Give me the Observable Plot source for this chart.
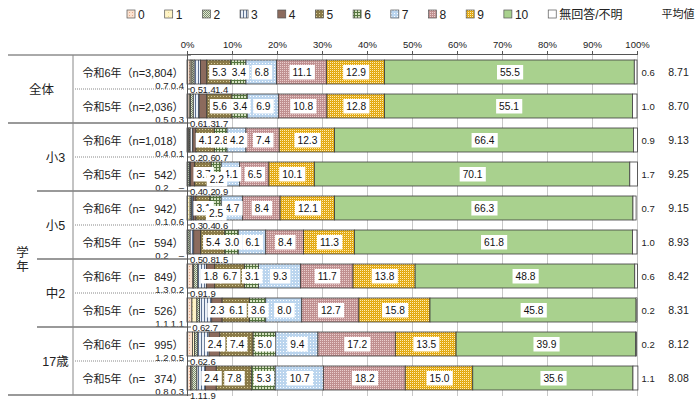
<!DOCTYPE html>
<html><head><meta charset="utf-8">
<script src="https://cdn.jsdelivr.net/npm/d3@7"></script>
<script src="https://cdn.jsdelivr.net/npm/@observablehq/plot@0.6"></script>
<style>
body{margin:0;background:#fff;font-family:"Liberation Sans","Noto Sans CJK JP",sans-serif;color:#222;}
#chart{width:700px;}
#chart svg{display:block;}
</style></head><body><div id="chart"></div>
<script>
const categories = ["0","1","2","3","4","5","6","7","8","9","10","無回答/不明"];
const groups = ["全体","全体","小3","小3","小5","小5","中2","中2","17歳","17歳"];
const years = ["令和6年","令和5年","令和6年","令和5年","令和6年","令和5年","令和6年","令和5年","令和6年","令和5年"];
const ns = ["3,804","2,036","1,018","542","942","594","849","526","995","374"];
const s0 = [0.7,0.5,0.4,0.2,0.1,0.2,1.3,1.1,1.2,0.8];
const s1 = [0.4,0.3,0.1,0,0.6,0,0.2,1.1,0.5,0.3];
const s2 = [0.5,0.6,0.2,0.4,0.3,0.5,0.9,0.6,0.6,1.1];
const s3 = [1.4,1.3,0.6,0.2,0.4,0.8,1.9,2.7,2.6,1.9];
const s4 = [1.4,1.7,0.7,0.9,0.6,1.5,1.8,2.3,2.4,2.4];
const s5 = [5.3,5.6,4.1,3.7,3.1,5.4,6.7,6.1,7.4,7.8];
const s6 = [3.4,3.4,2.8,2.2,2.5,3.0,3.1,3.6,5.0,5.3];
const s7 = [6.8,6.9,4.2,4.1,4.7,6.1,9.3,8.0,9.4,10.7];
const s8 = [11.1,10.8,7.4,6.5,8.4,8.4,11.7,12.7,17.2,18.2];
const s9 = [12.9,12.8,12.3,10.1,12.1,11.3,13.8,15.8,13.5,15.0];
const s10 = [55.5,55.1,66.4,70.1,66.3,61.8,48.8,45.8,39.9,35.6];
const sNA = [0.6,1.0,0.9,1.7,0.7,1.0,0.6,0.2,0.2,1.1];
const means = ["8.71","8.70","9.13","9.25","9.15","8.93","8.42","8.31","8.12","8.08"];
const xTicks = [0,10,20,30,40,50,60,70,80,90,100];

const FONT = '"Liberation Sans","Noto Sans CJK JP",sans-serif';
const series = [s0,s1,s2,s3,s4,s5,s6,s7,s8,s9,s10,sNA];
const rowIds = d3.range(ns.length);
const rows = rowIds.map(i => ({row:i, group:groups[i], year:years[i], n:ns[i], mean:means[i], v0:s0[i], v1:s1[i], na:sNA[i]}));
const long = [];
rows.forEach(r => { let c = 0; series.forEach((s,k) => { const v = s[r.row]; long.push({row:r.row, k, v, start:c, mid:c+v/2}); c += v; }); });
const fmt = v => v === 0 ? "–" : v.toFixed(1);
const inside = long.filter(d => (d.k >= 5 && d.k <= 10) || (d.k === 4 && d.v >= 1.8));
const below = [];
rows.forEach(r => {
  let prev = -Infinity;
  long.filter(d => d.row === r.row && (d.k === 2 || d.k === 3 || (d.k === 4 && d.v < 1.8)))
    .forEach((d, j) => { const p = Math.max(d.mid, j === 0 ? 2.0 : prev + 2.8); prev = p; below.push({...d, pos:p}); });
});
const groupFirst = rows.filter((r,i) => i === 0 || rows[i-1].group !== r.group);

// legend + patterns
const chart = d3.select("#chart");
const leg = chart.append("svg").attr("width",700).attr("height",26).style("font-family",FONT);
const defs = leg.append("defs");
function pat(id, w, h, bg, cells) {
  const p = defs.append("pattern").attr("id",id).attr("patternUnits","userSpaceOnUse").attr("width",w).attr("height",h);
  p.append("rect").attr("width",w).attr("height",h).attr("fill",bg);
  cells.forEach(([x,y,cw,ch,f]) => p.append("rect").attr("x",x).attr("y",y).attr("width",cw).attr("height",ch).attr("fill",f));
}
pat("p0",3,3,"#FBE2D0",[[0,0,1,1,"#E2A88A"]]);
pat("p1",4,4,"#FFF4C6",[[0,0,1,1,"#E6D48C"]]);
pat("p2",2,2,"#E0E7D5",[[0,0,1,1,"#7C8D6C"],[1,1,1,1,"#7C8D6C"]]);
pat("p3",3,3,"#EAF0F7",[[0,0,1,3,"#5C7090"]]);
pat("p4",4,4,"#8C6B5D",[]);
pat("p5",3,3,"#8A7A48",[[1,1,1,1,"#D8CE9C"]]);
pat("p6",3,3,"#D3E0BE",[[0,0,3,1,"#557540"],[0,0,1,3,"#557540"]]);
pat("p7",3,3,"#BBD5EE",[[1,1,1,1,"#FFFFFF"]]);
pat("p8",2,2,"#C09090",[[0,0,1,1,"#EACECE"]]);
pat("p9",2,2,"#E0A410",[[0,0,1,1,"#FFF0B4"],[1,1,1,1,"#E8B420"]]);
pat("p10",4,4,"#A9D18E",[]);
pat("p11",4,4,"#FFFFFF",[]);
let lx = 127;
categories.forEach((c,k) => {
  leg.append("rect").attr("x",lx).attr("y",10).attr("width",8).attr("height",8)
    .attr("fill",`url(#p${k})`).attr("stroke","#555").attr("stroke-width",0.7);
  const t = leg.append("text").attr("x",lx+11).attr("y",18.5).attr("font-size",12).attr("fill","#222").text(c);
  lx += 11 + t.node().getComputedTextLength() + 20;
});
leg.append("text").attr("x",678).attr("y",18).attr("text-anchor","middle").attr("font-size",11).attr("fill","#222").text("平均値");

const plot = Plot.plot({
  width: 700, height: 378,
  marginTop: 28, marginBottom: 8, marginLeft: 187, marginRight: 63,
  style: {fontFamily: FONT, fontSize: "11px", color: "#222", background: "#fff"},
  x: {domain: [0,100], axis: null},
  y: {domain: rowIds, paddingInner: 0.3, paddingOuter: 0.15, axis: null},
  color: {type: "identity"},
  marks: [
    Plot.gridX(xTicks, {stroke: "#c8c8c8", strokeOpacity: 1}),
    Plot.barX(long.filter(d => d.v > 0), {x1: "start", x2: d => d.start + d.v, y: "row", fill: d => `url(#p${d.k})`, stroke: "#3c3c3c", strokeWidth: 0.8}),
    Plot.axisX({anchor: "top", ticks: xTicks, tickFormat: d => d + "%", tickSize: 4, tickPadding: 3, fontSize: 9.5, stroke: "#555"}),
    Plot.frame({anchor: "top", stroke: "#555"}),
    Plot.ruleX([0], {stroke: "#555"}),
    Plot.text(inside.filter(d => !(d.k === 6 && d.v < 2.6)), {x: "mid", y: "row", text: d => d.v.toFixed(1), fontSize: 10.2, fill: "#111", className: "boxed"}),
    Plot.text(inside.filter(d => d.k === 6 && d.v < 2.6), {x: "mid", y: "row", text: d => d.v.toFixed(1), fontSize: 10.2, fill: "#111", dy: 5, className: "boxed"}),
    Plot.text(below, {x: "pos", y: "row", text: d => fmt(d.v), fontSize: 9.5, fill: "#222", dy: 17}),
    Plot.text(rows, {y: "row", frameAnchor: "left", dx: -19, dy: 13, text: d => fmt(d.v0), textAnchor: "end", fontSize: 9.5}),
    Plot.text(rows, {y: "row", frameAnchor: "left", dx: -3.5, dy: 13, text: d => fmt(d.v1), textAnchor: "end", fontSize: 9.5}),
    Plot.text(rows, {y: "row", frameAnchor: "left", dx: -105, dy: 1, text: d => `${d.year}（n=`, textAnchor: "start", fontSize: 11}),
    Plot.text(rows, {y: "row", frameAnchor: "left", dx: -4, dy: 1, text: d => `${d.n}）`, textAnchor: "end", fontSize: 11}),
    Plot.text(groupFirst.filter(d => d.group === "全体"), {y: "row", frameAnchor: "left", dx: -146, dy: 17, text: "group", textAnchor: "middle", fontSize: 12.5}),
    Plot.text(groupFirst.filter(d => d.group !== "全体"), {y: "row", frameAnchor: "left", dx: -132, dy: 17, text: "group", textAnchor: "middle", fontSize: 12.5}),
    Plot.text([rows[5]], {y: "row", frameAnchor: "left", dx: -165, dy: 17, text: () => "学\n年", textAnchor: "middle", fontSize: 12.5, lineHeight: 1.1}),
    Plot.text(rows, {y: "row", frameAnchor: "right", dx: 4, text: d => d.na.toFixed(1), textAnchor: "start", fontSize: 9.5}),
    Plot.text(rows, {y: "row", frameAnchor: "right", dx: 41, text: "mean", textAnchor: "middle", fontSize: 10.5})
  ]
});
chart.node().appendChild(plot);

// white boxes behind in-bar labels
d3.select(plot).selectAll("g.boxed text").each(function() {
  const b = this.getBBox();
  const r = document.createElementNS("http://www.w3.org/2000/svg", "rect");
  r.setAttribute("x", b.x - 3); r.setAttribute("y", -7.5);
  r.setAttribute("width", b.width + 6); r.setAttribute("height", 14.5);
  r.setAttribute("fill", "#fff");
  const tr = this.getAttribute("transform"); if (tr) r.setAttribute("transform", tr);
  this.parentNode.insertBefore(r, this);
});

// table chrome
const ys = plot.scale("y");
const step = ys.step, off = (ys.step - ys.bandwidth) / 2;
const bandTop = i => ys.apply(i) - off;
const svgSel = d3.select(plot);
const chrome = svgSel.append("g").attr("fill", "none");
const bnd = rowIds.map(bandTop).concat([bandTop(rowIds.length - 1) + step]);
const hline = (x1, x2, y, stroke, w, dash) => chrome.append("line").attr("x1", x1).attr("x2", x2).attr("y1", y).attr("y2", y)
  .attr("stroke", stroke).attr("stroke-width", w).attr("stroke-dasharray", dash || null);
hline(8, 187, bnd[0], "#555", 1);
rowIds.forEach((i) => {
  const y = bnd[i + 1];
  const last = i === rowIds.length - 1;
  const grpEnd = last || groups[i + 1] !== groups[i];
  if (grpEnd) hline(i === 1 || last ? 8 : 37, 187, y, "#777", 1.6);
  else hline(75, 184, y, "#888", 1, "1,1");
});
chrome.append("line").attr("x1", 73).attr("x2", 73).attr("y1", bnd[0]).attr("y2", bnd[bnd.length - 1]).attr("stroke", "#888");
bnd.forEach(y => chrome.append("line").attr("x1", 187).attr("x2", 191).attr("y1", y).attr("y2", y).attr("stroke", "#555"));
</script></body></html>
